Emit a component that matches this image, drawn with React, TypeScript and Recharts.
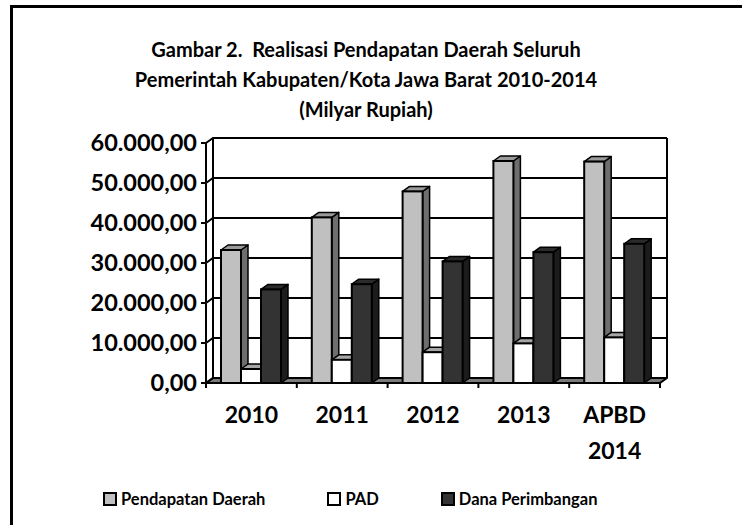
import React from 'react';
import { BarChart, Bar, XAxis, YAxis, CartesianGrid } from 'recharts';

const categories = ['2010', '2011', '2012', '2013', 'APBD 2014'];
const pendapatanDaerah = [33250, 41400, 47900, 55500, 55350];
const pad = [3500, 5800, 7700, 9900, 11400];
const danaPerimbangan = [23400, 24700, 30400, 32700, 34800];
const yTicks = [0, 10000, 20000, 30000, 40000, 50000, 60000];

const data = categories.map((c, i) => ({
    name: c,
    pd: pendapatanDaerah[i],
    pad: pad[i],
    dp: danaPerimbangan[i],
}));

const W = 742;
const H = 525;
const PLOT = { left: 206, right: 660, top: 143, bottom: 383 };
const DX = 7;
const DY = -5;
const Y_AXIS_W = 120;
const X_AXIS_H = 80;
const FONT = "Lato, 'Open Sans', sans-serif";

const series = [
    { key: 'pd', name: 'Pendapatan Daerah', front: '#c0c0c0', top: '#9a9a9a', side: '#6e6e6e' },
    { key: 'pad', name: 'PAD', front: '#ffffff', top: '#a6a6a6', side: '#8a8a8a' },
    { key: 'dp', name: 'Dana Perimbangan', front: '#333333', top: '#2b2b2b', side: '#1c1c1c' },
];

// 1.234.567,00 style
const fmt = (v: number) => {
    const s = Math.round(v).toString().replace(/\B(?=(\d{3})+(?!\d))/g, '.');
    return s + ',00';
};

const make3D = (c: { front: string; top: string; side: string }) => (props: any) => {
    const { x, y, width: w, height: h } = props;
    if (w == null || h == null) return <g />;
    return (
        <g>
            <polygon
                points={`${x + w},${y} ${x + w + DX},${y + DY} ${x + w + DX},${y + h + DY} ${x + w},${y + h}`}
                fill={c.side} stroke="#000" strokeWidth={1.5} strokeLinejoin="round"
            />
            <polygon
                points={`${x},${y} ${x + DX},${y + DY} ${x + w + DX},${y + DY} ${x + w},${y}`}
                fill={c.top} stroke="#000" strokeWidth={1.5} strokeLinejoin="round"
            />
            <rect x={x} y={y} width={w} height={h} fill={c.front} stroke="#000" strokeWidth={2} />
        </g>
    );
};

const gridLine = (props: any) => {
    const { x1, x2, y1, index } = props;
    const isFloor = Math.abs(y1 - PLOT.bottom) < 1;
    return (
        <g key={`h-${index}`}>
            {isFloor && (
                <polygon
                    points={`${x1},${y1} ${x2},${y1} ${x2 + DX},${y1 + DY} ${x1 + DX},${y1 + DY}`}
                    fill="#7a7a7a" stroke="#000" strokeWidth={2} strokeLinejoin="round"
                />
            )}
            <polyline
                points={`${x1},${y1} ${x1 + DX},${y1 + DY} ${x2 + DX},${y1 + DY}`}
                fill="none" stroke="#000" strokeWidth={2}
            />
        </g>
    );
};

const wallLine = (props: any) => {
    const { x1, y1, y2, index } = props;
    return (
        <line key={`v-${index}`} x1={x1 + DX} y1={y1 + DY} x2={x1 + DX} y2={y2 + DY} stroke="#000" strokeWidth={2} />
    );
};

const band = (PLOT.right - PLOT.left) / categories.length;

const CategoryTick = (props: any) => {
    const { x, y, payload, index } = props;
    const lines = String(payload.value).split(' ');
    return (
        <g>
            <line x1={x - band / 2} y1={y} x2={x - band / 2} y2={y + 5} stroke="#000" strokeWidth={2} />
            {index === categories.length - 1 && (
                <line x1={x + band / 2} y1={y} x2={x + band / 2} y2={y + 5} stroke="#000" strokeWidth={2} />
            )}
            <text x={x} y={y + 40} textAnchor="middle" fill="#000" fontFamily={FONT} fontWeight={700} fontSize={23}>
                {lines.map((l, i) => (
                    <tspan key={i} x={x} dy={i === 0 ? 0 : 36}>{l}</tspan>
                ))}
            </text>
        </g>
    );
};

export default function App() {
    return (
        <div style={{ position: 'absolute', left: 0, top: 0, width: W, height: H, overflow: 'hidden', background: '#fff', fontFamily: FONT }}>
            <div style={{ position: 'absolute', left: 10, top: 5, width: 800, height: 600, border: '3px solid #000' }} />
            <div style={{ position: 'absolute', left: 0, top: 34, width: 732, textAlign: 'center', fontWeight: 700, fontSize: 20, lineHeight: '30px', whiteSpace: 'pre', color: '#000' }}>
                <div>{'Gambar 2.  Realisasi Pendapatan Daerah Seluruh'}</div>
                <div>Pemerintah Kabupaten/Kota Jawa Barat 2010-2014</div>
                <div>(Milyar Rupiah)</div>
            </div>
            <div style={{ position: 'absolute', left: 0, top: 0 }}>
                <BarChart
                    width={W}
                    height={H}
                    data={data}
                    barSize={20}
                    barGap={0}
                    margin={{ top: PLOT.top, right: W - PLOT.right, left: PLOT.left - Y_AXIS_W, bottom: H - PLOT.bottom - X_AXIS_H }}
                >
                    <CartesianGrid
                        horizontal={gridLine}
                        vertical={wallLine}
                        verticalCoordinatesGenerator={({ offset }: any) => [offset.left, offset.left + offset.width]}
                        stroke="#000"
                    />
                    <XAxis
                        dataKey="name"
                        height={X_AXIS_H}
                        interval={0}
                        tickSize={0}
                        tickMargin={0}
                        tickLine={false}
                        axisLine={{ stroke: '#000', strokeWidth: 2 }}
                        tick={<CategoryTick />}
                    />
                    <YAxis
                        width={Y_AXIS_W}
                        domain={[0, 60000]}
                        ticks={yTicks}
                        interval={0}
                        tickFormatter={fmt}
                        tickSize={5}
                        tickMargin={4}
                        axisLine={{ stroke: '#000', strokeWidth: 2 }}
                        tickLine={{ stroke: '#000', strokeWidth: 2 }}
                        tick={{ fill: '#000', fontSize: 23.5, fontWeight: 700, fontFamily: FONT }}
                    />
                    {series.map((s) => (
                        <Bar key={s.key} dataKey={s.key} name={s.name} fill={s.front} shape={make3D(s)} isAnimationActive={false} />
                    ))}
                </BarChart>
            </div>
            <div style={{ position: 'absolute', left: 103, top: 489, height: 20, display: 'flex', alignItems: 'center', gap: 62 }}>
                {series.map((s) => (
                    <div key={s.key} style={{ display: 'flex', alignItems: 'center', gap: 4 }}>
                        <div style={{ width: 14, height: 14, boxSizing: 'border-box', border: '2px solid #000', background: s.front }} />
                        <span style={{ fontSize: 16.5, fontWeight: 700, color: '#000', lineHeight: '20px' }}>{s.name}</span>
                    </div>
                ))}
            </div>
        </div>
    );
}
